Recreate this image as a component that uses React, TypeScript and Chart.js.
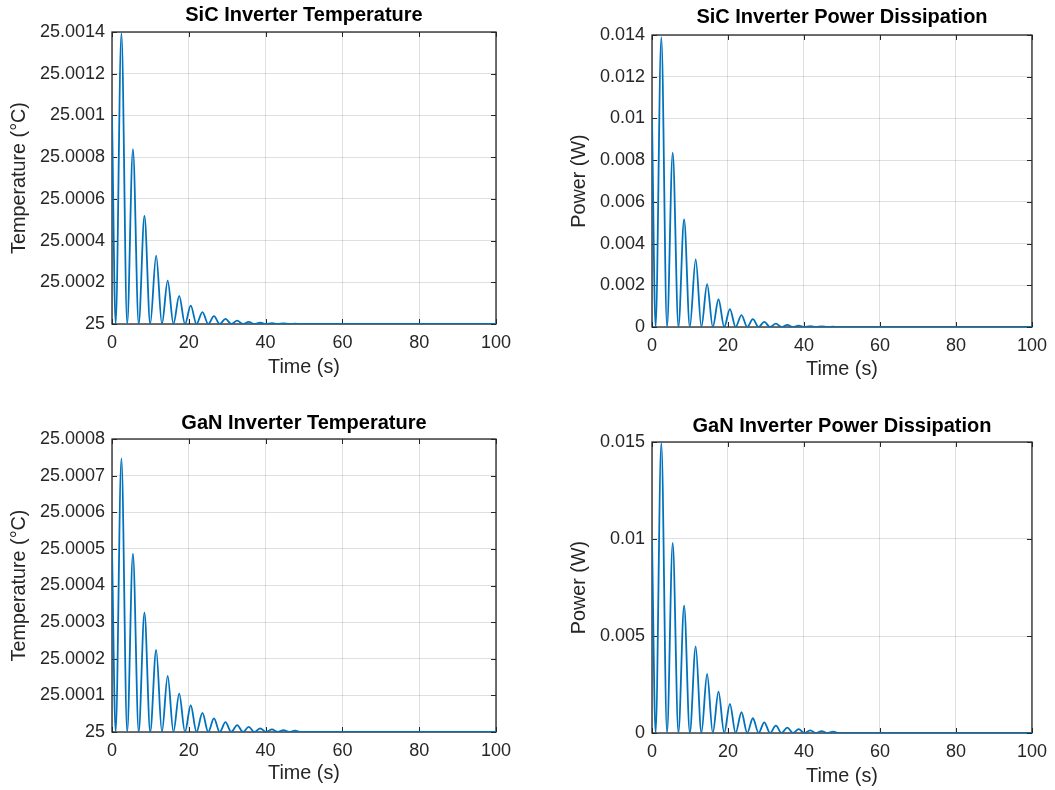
import React, { useEffect, useRef } from 'react';
import { Chart, registerables } from 'chart.js';

Chart.register(...registerables);

const FONT = "'Liberation Sans', Arial, Helvetica, sans-serif";

// Shared time base (s): start, first zero, then (peak, zero) pairs, end
const timeS = [
  0, 0.95,
  2.45, 3.95, 5.45, 6.95, 8.45, 9.95, 11.5, 13.0, 14.5, 16.0,
  17.5, 19.0, 20.5, 22.0, 23.55, 25.05, 26.55, 28.05, 29.55, 31.05,
  32.6, 34.1, 35.6, 37.1, 38.6, 40.1, 41.65, 43.15, 44.65, 46.15,
  47.65, 49.15,
  100,
];

const sicTemp = [
  25.001, 25,
  25.001395, 25, 25.000838, 25, 25.000518, 25, 25.000328, 25, 25.000208, 25,
  25.000135, 25, 25.000088, 25, 25.000057, 25, 25.000038, 25, 25.000025, 25,
  25.000016, 25, 25.00001, 25, 25.0000065, 25, 25.0000042, 25, 25.0000027, 25,
  25.0000017, 25,
  25,
];

const sicPower = [
  0.01, 0,
  0.0139, 0, 0.00836, 0, 0.00516, 0, 0.00324, 0, 0.00206, 0,
  0.00133, 0, 0.00086, 0, 0.00057, 0, 0.00038, 0, 0.00025, 0,
  0.00016, 0, 0.0001, 0, 0.000065, 0, 0.000042, 0, 0.000027, 0,
  0.000017, 0,
  0,
];

const ganTemp = [
  25.0005, 25,
  25.000747, 25, 25.000487, 25, 25.000326, 25, 25.000224, 25, 25.000153, 25,
  25.000105, 25, 25.000073, 25, 25.000052, 25, 25.000037, 25, 25.000027, 25,
  25.000019, 25, 25.000014, 25, 25.00001, 25, 25.000007, 25, 25.000005, 25,
  25.0000035, 25,
  25,
];

const ganPower = [
  0.01, 0,
  0.01495, 0, 0.0098, 0, 0.00657, 0, 0.00447, 0, 0.00304, 0,
  0.00213, 0, 0.0015, 0, 0.00107, 0, 0.00076, 0, 0.00055, 0,
  0.00038, 0, 0.00028, 0, 0.0002, 0, 0.00014, 0, 0.0001, 0,
  0.00007, 0,
  0,
];

const timeTicks = [0, 20, 40, 60, 80, 100];
const timeTickLabels = ['0', '20', '40', '60', '80', '100'];

const sicTempTicks = [25, 25.0002, 25.0004, 25.0006, 25.0008, 25.001, 25.0012, 25.0014];
const sicTempTickLabels = ['25', '25.0002', '25.0004', '25.0006', '25.0008', '25.001', '25.0012', '25.0014'];

const sicPowerTicks = [0, 0.002, 0.004, 0.006, 0.008, 0.01, 0.012, 0.014];
const sicPowerTickLabels = ['0', '0.002', '0.004', '0.006', '0.008', '0.01', '0.012', '0.014'];

const ganTempTicks = [25, 25.0001, 25.0002, 25.0003, 25.0004, 25.0005, 25.0006, 25.0007, 25.0008];
const ganTempTickLabels = ['25', '25.0001', '25.0002', '25.0003', '25.0004', '25.0005', '25.0006', '25.0007', '25.0008'];

const ganPowerTicks = [0, 0.005, 0.01, 0.015];
const ganPowerTickLabels = ['0', '0.005', '0.01', '0.015'];

type Layout = {
  left: number; top: number; w: number; h: number;
  plotLeft: number; plotRight: number; plotTop: number; plotBottom: number;
  titleTop: number; xTitleBottom: number; yTitleTop: number;
};

type Spec = {
  title: string;
  yLabel: string;
  values: number[];
  yTicks: number[];
  yTickLabels: string[];
  layout: Layout;
};

const boxPlugin = {
  id: 'matlabBox',
  beforeDatasetsDraw(chart: any) {
    const { ctx, chartArea: a, scales } = chart;
    ctx.save();
    ctx.strokeStyle = '#262626';
    ctx.lineWidth = 1.3;
    ctx.strokeRect(a.left, a.top, a.right - a.left, a.bottom - a.top);
    const len = 5;
    ctx.lineWidth = 1;
    ctx.beginPath();
    scales.x.ticks.forEach((t: any) => {
      const px = Math.round(scales.x.getPixelForValue(t.value)) + 0.5;
      ctx.moveTo(px, a.bottom); ctx.lineTo(px, a.bottom - len);
      ctx.moveTo(px, a.top); ctx.lineTo(px, a.top + len);
    });
    scales.y.ticks.forEach((t: any) => {
      const py = Math.round(scales.y.getPixelForValue(t.value)) + 0.5;
      ctx.moveTo(a.left, py); ctx.lineTo(a.left + len, py);
      ctx.moveTo(a.right, py); ctx.lineTo(a.right - len, py);
    });
    ctx.stroke();
    ctx.restore();
  },
};

function Panel({ spec }: { spec: Spec }) {
  const ref = useRef<HTMLCanvasElement>(null);
  useEffect(() => {
    const L = spec.layout;
    const titleFontSize = 20;
    const labelFontSize = 19.8;
    const tickFontSize = 18;
    const titleLine = titleFontSize * 1.2;
    const chart = new Chart(ref.current as HTMLCanvasElement, {
      type: 'line',
      data: {
        datasets: [
          {
            data: timeS.map((t, i) => ({ x: t, y: spec.values[i] })),
            borderColor: '#0072BD',
            borderWidth: 1.8,
            pointRadius: 0,
            fill: false,
            cubicInterpolationMode: 'monotone',
          },
        ],
      },
      options: {
        responsive: false,
        animation: false,
        devicePixelRatio: 1,
        layout: {
          padding: { left: 0, top: 0, right: L.w - L.plotRight, bottom: 0 },
        },
        plugins: {
          legend: { display: false },
          tooltip: { enabled: false },
          title: {
            display: true,
            text: spec.title,
            fullSize: false,
            color: '#000000',
            font: { family: FONT, size: titleFontSize, weight: 'bold', lineHeight: 1.2 },
            padding: { top: L.titleTop, bottom: L.plotTop - L.titleTop - titleLine },
          },
        },
        scales: {
          x: {
            type: 'linear',
            min: 0,
            max: 100,
            afterBuildTicks: (scale: any) => {
              scale.ticks = timeTicks.map((v) => ({ value: v }));
            },
            afterFit: (scale: any) => {
              scale.height = L.h - L.plotBottom;
            },
            grid: { color: 'rgba(38,38,38,0.15)', lineWidth: 1, drawTicks: false },
            border: { display: false },
            ticks: {
              autoSkip: false,
              maxRotation: 0,
              padding: 8,
              color: '#262626',
              font: { family: FONT, size: tickFontSize },
              callback: (_v: any, i: number) => timeTickLabels[i],
            },
            title: {
              display: true,
              text: 'Time (s)',
              color: '#262626',
              font: { family: FONT, size: labelFontSize, lineHeight: 1.2 },
              padding: { top: 0, bottom: L.xTitleBottom },
            },
          },
          y: {
            type: 'linear',
            min: spec.yTicks[0],
            max: spec.yTicks[spec.yTicks.length - 1],
            afterBuildTicks: (scale: any) => {
              scale.ticks = spec.yTicks.map((v) => ({ value: v }));
            },
            afterFit: (scale: any) => {
              scale.width = L.plotLeft;
            },
            grid: { color: 'rgba(38,38,38,0.15)', lineWidth: 1, drawTicks: false },
            border: { display: false },
            ticks: {
              autoSkip: false,
              padding: 7,
              color: '#262626',
              font: { family: FONT, size: tickFontSize },
              callback: (_v: any, i: number) => spec.yTickLabels[i],
            },
            title: {
              display: true,
              text: spec.yLabel,
              color: '#262626',
              font: { family: FONT, size: labelFontSize, lineHeight: 1.2 },
              padding: { top: L.yTitleTop, bottom: 0 },
            },
          },
        },
      },
      plugins: [boxPlugin],
    } as any);
    return () => chart.destroy();
  }, [spec]);
  const L = spec.layout;
  return (
    <canvas
      ref={ref}
      width={L.w}
      height={L.h}
      style={{ position: 'absolute', left: L.left, top: L.top, width: L.w, height: L.h }}
    />
  );
}

const specs: Spec[] = [
  {
    title: 'SiC Inverter Temperature',
    yLabel: 'Temperature (°C)',
    values: sicTemp,
    yTicks: sicTempTicks,
    yTickLabels: sicTempTickLabels,
    layout: { left: 0, top: 0, w: 527, h: 395, plotLeft: 112, plotRight: 496, plotTop: 32, plotBottom: 324, titleTop: 3, xTitleBottom: 16, yTitleTop: 8 },
  },
  {
    title: 'SiC Inverter Power Dissipation',
    yLabel: 'Power (W)',
    values: sicPower,
    yTicks: sicPowerTicks,
    yTickLabels: sicPowerTickLabels,
    layout: { left: 527, top: 0, w: 528, h: 395, plotLeft: 125, plotRight: 508, plotTop: 35, plotBottom: 327, titleTop: 5.5, xTitleBottom: 14, yTitleTop: 41 },
  },
  {
    title: 'GaN Inverter Temperature',
    yLabel: 'Temperature (°C)',
    values: ganTemp,
    yTicks: ganTempTicks,
    yTickLabels: ganTempTickLabels,
    layout: { left: 0, top: 395, w: 527, h: 395, plotLeft: 112, plotRight: 496, plotTop: 44, plotBottom: 337, titleTop: 16, xTitleBottom: 5, yTitleTop: 8 },
  },
  {
    title: 'GaN Inverter Power Dissipation',
    yLabel: 'Power (W)',
    values: ganPower,
    yTicks: ganPowerTicks,
    yTickLabels: ganPowerTickLabels,
    layout: { left: 527, top: 395, w: 528, h: 395, plotLeft: 125, plotRight: 507, plotTop: 47, plotBottom: 338, titleTop: 19, xTitleBottom: 2, yTitleTop: 41 },
  },
];

export default function App() {
  return (
    <div style={{ position: 'absolute', left: 0, top: 0, width: 1055, height: 790, background: '#ffffff', overflow: 'hidden' }}>
      {specs.map((s, i) => (
        <Panel key={i} spec={s} />
      ))}
    </div>
  );
}
